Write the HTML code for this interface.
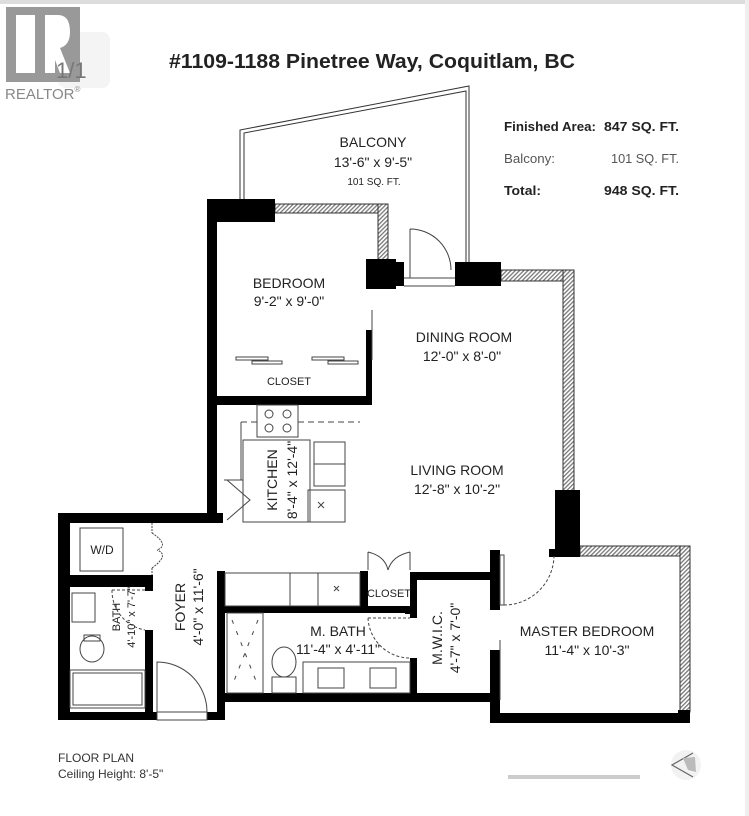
<!DOCTYPE html>
<html><head><meta charset="utf-8"><style>
html,body{margin:0;padding:0;background:#fff;}
svg{display:block;}
text{font-family:"Liberation Sans",sans-serif;fill:#222;}
</style></head><body>
<svg width="749" height="816" viewBox="0 0 749 816" xmlns="http://www.w3.org/2000/svg">
<defs>
<pattern id="h" width="3" height="3" patternUnits="userSpaceOnUse" patternTransform="rotate(45)">
<rect width="3" height="3" fill="#fff"/><rect width="1.3" height="3" fill="#777"/></pattern>
</defs>
<rect x="0" y="0" width="749" height="4" fill="#ddd"/>
<rect x="745" y="0" width="4" height="816" fill="#eee"/>
<!-- logo -->
<rect x="58" y="32" width="52" height="56" rx="8" fill="#f4f4f4"/>
<rect x="6" y="7" width="74" height="75" fill="#999"/>
<rect x="16" y="15" width="19" height="58" fill="#fff"/>
<path d="M45 15 H58 Q70 15 70 32 Q70 45 60 48 L70 73 H60 L52 52 H55 V73 H45 Z" fill="#fff"/>
<text x="56" y="78" font-size="22" fill="#777" style="fill:#777">1/1</text>
<text x="5" y="99" font-size="15" style="fill:#888">REALTOR<tspan font-size="8" dy="-7">®</tspan></text>
<!-- title -->
<text x="372" y="68" font-size="20" font-weight="bold" text-anchor="middle" textLength="406" lengthAdjust="spacingAndGlyphs">#1109-1188 Pinetree Way, Coquitlam, BC</text>
<!-- info -->
<g font-size="13">
<text x="504" y="131" font-weight="bold" textLength="92" lengthAdjust="spacingAndGlyphs">Finished Area:</text>
<text x="604" y="131" font-weight="bold" textLength="75" lengthAdjust="spacingAndGlyphs">847 SQ. FT.</text>
<text x="504" y="163" style="fill:#555" textLength="51" lengthAdjust="spacingAndGlyphs">Balcony:</text>
<text x="611" y="163" style="fill:#555" textLength="68" lengthAdjust="spacingAndGlyphs">101 SQ. FT.</text>
<text x="504" y="195" font-weight="bold" textLength="37" lengthAdjust="spacingAndGlyphs">Total:</text>
<text x="604" y="195" font-weight="bold" textLength="75" lengthAdjust="spacingAndGlyphs">948 SQ. FT.</text>
</g>
<!-- balcony outline -->
<g fill="none" stroke="#333" stroke-width="1">
<path d="M240 199 V130 L469 86 V262"/>
<path d="M244 199 V133 L466 91 V262"/>
</g>
<!-- hatched exterior walls -->
<g stroke="#333" stroke-width="1">
<rect x="275" y="204" width="113" height="9" fill="url(#h)"/>
<rect x="378" y="204" width="10" height="56" fill="url(#h)"/>
<rect x="501" y="270" width="73" height="11" fill="url(#h)"/>
<rect x="563" y="270" width="11" height="222" fill="url(#h)"/>
<rect x="580" y="546" width="110" height="10" fill="url(#h)"/>
<rect x="680" y="546" width="10" height="166" fill="url(#h)"/>
</g>
<!-- black walls -->
<g fill="#000">
<rect x="207" y="199" width="68" height="23"/>
<rect x="207" y="199" width="10" height="322"/>
<rect x="366" y="259" width="30" height="30"/>
<rect x="394" y="262" width="10" height="24"/>
<rect x="455" y="262" width="46" height="24"/>
<rect x="366" y="330" width="6" height="75"/>
<rect x="207" y="396" width="165" height="9"/>
<rect x="58" y="513" width="165" height="10"/>
<rect x="58" y="513" width="12" height="207"/>
<rect x="68" y="575" width="84" height="12"/>
<rect x="145" y="575" width="8" height="16"/>
<rect x="145" y="630" width="8" height="90"/>
<rect x="58" y="712" width="99" height="8"/>
<rect x="207" y="712" width="18" height="8"/>
<rect x="217" y="571" width="8" height="149"/>
<rect x="360" y="571" width="8" height="42"/>
<rect x="217" y="606" width="195" height="7"/>
<rect x="405" y="606" width="7" height="8"/>
<rect x="410" y="572" width="82" height="8"/>
<rect x="410" y="572" width="7" height="46"/>
<rect x="410" y="658" width="7" height="44"/>
<rect x="217" y="693" width="283" height="9"/>
<rect x="490" y="550" width="10" height="60"/>
<rect x="490" y="650" width="10" height="73"/>
<rect x="490" y="713" width="200" height="10"/>
<rect x="678" y="710" width="12" height="13"/>
<rect x="555" y="490" width="25" height="67"/>
<rect x="549" y="549" width="31" height="8"/>
</g>
<!-- doors, fixtures -->
<g fill="none" stroke="#444" stroke-width="1">
<path d="M404 286 H455 M404 278 H455"/>
<path d="M410 278 V229 M410 229 A41 41 0 0 1 451 270"/>
<rect x="500" y="555" width="4" height="50" fill="#fff"/>
<path d="M504 605 A50 50 0 0 0 554 556" stroke-dasharray="3 2"/>
<line x1="500" y1="640" x2="500" y2="700"/>
<!-- bedroom closet doors -->
<rect x="236" y="357" width="32" height="3"/><rect x="252" y="361" width="30" height="3"/>
<rect x="312" y="357" width="32" height="3"/><rect x="328" y="361" width="30" height="3"/>
<line x1="372" y1="310" x2="372" y2="360"/>
<!-- kitchen -->
<rect x="257" y="405" width="41" height="32"/>
<circle cx="269" cy="414" r="4"/><circle cx="287" cy="414" r="4"/><circle cx="269" cy="428" r="4"/><circle cx="287" cy="428" r="4"/>
<path d="M241 422 H257 M298 422 H360" stroke-dasharray="6 4"/>
<path d="M241 422 V480"/>
<rect x="243" y="440" width="67" height="82"/>
<rect x="314" y="442" width="31" height="22"/><rect x="314" y="464" width="31" height="22"/>
<rect x="308" y="490" width="37" height="32"/>
<path d="M318 502 l6 6 M324 502 l-6 6"/>
<path d="M224 480 H243 M227 480 L250 500 L227 520"/>
<!-- lower counter -->
<rect x="225" y="573" width="135" height="33"/>
<line x1="290" y1="573" x2="290" y2="606"/><line x1="318" y1="573" x2="318" y2="606"/>
<path d="M334 586 l5 5 M339 586 l-5 5"/>
<path d="M368 570 V552 M410 570 V552 M368 552 Q385 556 388 570 M410 552 Q392 556 388 570"/>
<!-- m bath -->
<rect x="227" y="613" width="36" height="80"/>
<path d="M232 620 L258 686 M258 620 L232 686" stroke-dasharray="4 8"/>
<ellipse cx="284" cy="662" rx="12" ry="15"/>
<rect x="272" y="677" width="24" height="16"/>
<rect x="303" y="662" width="107" height="31"/>
<rect x="318" y="668" width="26" height="20"/><rect x="370" y="668" width="26" height="20"/>
<path d="M368 618 H410 M368 618 A42 42 0 0 0 410 658" stroke-dasharray="3 2"/>
<!-- laundry / bath -->
<rect x="80" y="528" width="43" height="43"/>
<path d="M152 523 V533 M152 568 V575 M152 533 Q170 545 157 550 M152 568 Q170 555 157 550" stroke-dasharray="2 1"/>
<rect x="72" y="593" width="23" height="29"/>
<path d="M112 590 H145 M112 590 A40 40 0 0 0 145 630" stroke-dasharray="3 2"/>
<ellipse cx="92" cy="649" rx="12" ry="13"/><rect x="84" y="635" width="16" height="6"/>
<rect x="70" y="670" width="75" height="38"/><rect x="73" y="673" width="69" height="32"/>
<path d="M157 712 V662 A50 50 0 0 1 207 712"/>
<rect x="157" y="712" width="50" height="8"/>
</g>
<!-- labels -->
<g font-size="14" text-anchor="middle">
<text x="373" y="147">BALCONY</text>
<text x="373" y="167">13'-6" x 9'-5"</text>
<text x="374" y="185" font-size="10">101 SQ. FT.</text>
<text x="289" y="288">BEDROOM</text>
<text x="289" y="306">9'-2" x 9'-0"</text>
<text x="464" y="342">DINING ROOM</text>
<text x="462" y="361">12'-0" x 8'-0"</text>
<text x="289" y="385" font-size="11">CLOSET</text>
<text x="457" y="475">LIVING ROOM</text>
<text x="457" y="494">12'-8" x 10'-2"</text>
<text x="102" y="554" font-size="12">W/D</text>
<text x="389" y="597" font-size="11">CLOSET</text>
<text x="338" y="636">M. BATH</text>
<text x="338" y="654">11'-4" x 4'-11"</text>
<text x="587" y="636">MASTER BEDROOM</text>
<text x="587" y="655">11'-4" x 10'-3"</text>
<text transform="translate(272,480) rotate(-90)" y="5">KITCHEN</text>
<text transform="translate(292,480) rotate(-90)" y="5">8'-4" x 12'-4"</text>
<text transform="translate(180,607) rotate(-90)" y="5">FOYER</text>
<text transform="translate(198,607) rotate(-90)" y="5">4'-0" x 11'-6"</text>
<text transform="translate(116,617) rotate(-90)" y="4" font-size="11">BATH</text>
<text transform="translate(131,617) rotate(-90)" y="4" font-size="11">4'-10" x 7'-7"</text>
<text transform="translate(437,638) rotate(-90)" y="5">M.W.I.C.</text>
<text transform="translate(455,638) rotate(-90)" y="5">4'-7" x 7'-0"</text>
</g>
<text x="58" y="762" font-size="12" style="fill:#333">FLOOR PLAN</text>
<text x="58" y="778" font-size="12" style="fill:#333">Ceiling Height: 8'-5"</text>
<!-- scale bar & compass -->
<rect x="508" y="775" width="132" height="4" fill="#ccc"/>
<circle cx="686" cy="765" r="15" fill="#f2f2f2"/>
<path d="M693 753 L672 765 L693 777" fill="none" stroke="#666" stroke-width="1.2"/>
<path d="M683 758 L695 757 L696 772 L688 770 Z" fill="#bbb"/>
</svg>
</body></html>
